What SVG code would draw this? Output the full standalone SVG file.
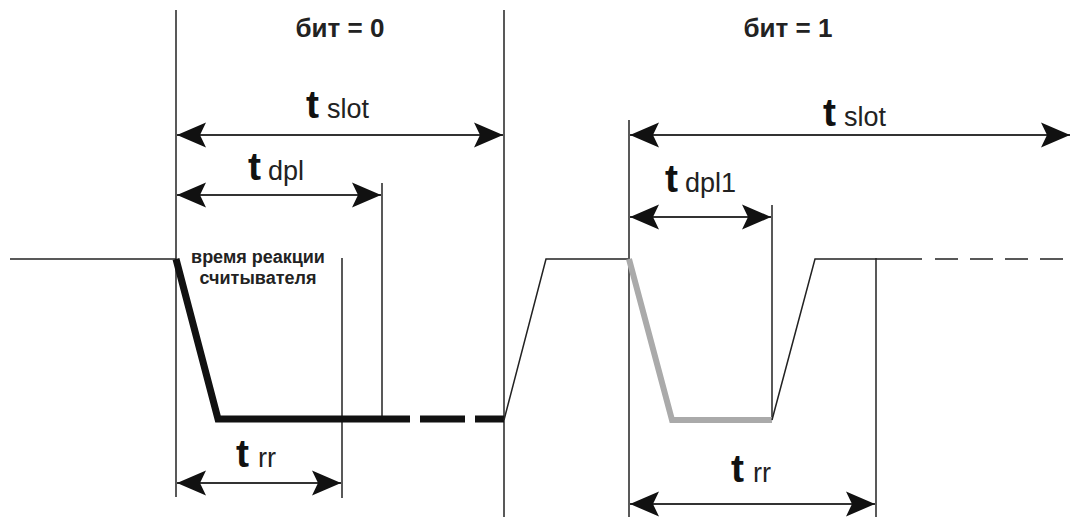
<svg xmlns="http://www.w3.org/2000/svg" width="1072" height="517" viewBox="0 0 1072 517">
<style>
.thin{stroke:#222;stroke-width:1.5;fill:none}
.dim{stroke:#333;stroke-width:1.8;fill:none;marker-start:url(#ah);marker-end:url(#ah)}
.t{font-family:"Liberation Sans",Arial,sans-serif;font-weight:bold;font-size:39px;fill:#111}
.sub{font-family:"Liberation Sans",Arial,sans-serif;font-size:27px;fill:#222}
.hd{font-family:"Liberation Sans",Arial,sans-serif;font-weight:bold;font-size:26px;fill:#222}
.note{font-family:"Liberation Sans",Arial,sans-serif;font-weight:bold;font-size:18px;fill:#222}
</style>
<defs>
<marker id="ah" viewBox="-30 -14 32 28" markerWidth="32" markerHeight="28" refX="0" refY="0" orient="auto-start-reverse" markerUnits="userSpaceOnUse">
<path d="M0,0 L-29,-12.5 L-23,0 L-29,12.5 Z" fill="#111"/>
</marker>
</defs>
<rect width="1072" height="517" fill="#fff"/>
<g id="guides">
<line class="thin" x1="176" y1="10" x2="176" y2="497"/>
<line class="thin" x1="504" y1="10" x2="504" y2="517"/>
<line class="thin" x1="382" y1="183" x2="382" y2="420"/>
<line class="thin" x1="342" y1="258" x2="342" y2="498"/>
<line class="thin" x1="629" y1="120" x2="629" y2="517"/>
<line class="thin" x1="772" y1="205" x2="772" y2="420"/>
<line class="thin" x1="876" y1="258" x2="876" y2="517"/>
</g>
<g id="waveform">
<path class="thin" d="M10,259 H176"/>
<path d="M176,259 L218,419 H410" stroke="#111" stroke-width="7" fill="none" stroke-linejoin="miter"/>
<path d="M420,419 H465 M475,419 H504" stroke="#111" stroke-width="7" fill="none"/>
<path class="thin" d="M504,420 L546,259 H628"/>
<path d="M629,259 L672,420 H772" stroke="#aaa" stroke-width="6" fill="none"/>
<path class="thin" d="M772,420 L815,259 H922"/>
<path class="thin" d="M935,259 H1072" stroke-dasharray="23 12"/>
</g>
<g id="connectors">
<line class="dim" x1="177" y1="135" x2="503" y2="135"/>
<line class="dim" x1="177" y1="195" x2="381" y2="195"/>
<line class="dim" x1="177" y1="483" x2="341" y2="483"/>
<line class="dim" x1="630" y1="135" x2="1070" y2="135"/>
<line class="dim" x1="630" y1="217" x2="771" y2="217"/>
<line class="dim" x1="630" y1="504" x2="875" y2="504"/>
</g>
<g id="labels">
<text class="hd" x="340" y="37" text-anchor="middle">бит = 0</text>
<text class="hd" x="788" y="37" text-anchor="middle">бит = 1</text>
<text x="306" y="118"><tspan class="t">t</tspan><tspan class="sub" dx="8">slot</tspan></text>
<text x="248" y="180"><tspan class="t">t</tspan><tspan class="sub" dx="7">dpl</tspan></text>
<text x="236" y="467"><tspan class="t">t</tspan><tspan class="sub" dx="9">rr</tspan></text>
<text x="823" y="126"><tspan class="t">t</tspan><tspan class="sub" dx="8">slot</tspan></text>
<text x="665" y="192"><tspan class="t">t</tspan><tspan class="sub" dx="7">dpl1</tspan></text>
<text x="731" y="482"><tspan class="t">t</tspan><tspan class="sub" dx="9">rr</tspan></text>
<text class="note" x="258" y="263" text-anchor="middle">время реакции</text>
<text class="note" x="258" y="284" text-anchor="middle">считывателя</text>
</g>
</svg>
